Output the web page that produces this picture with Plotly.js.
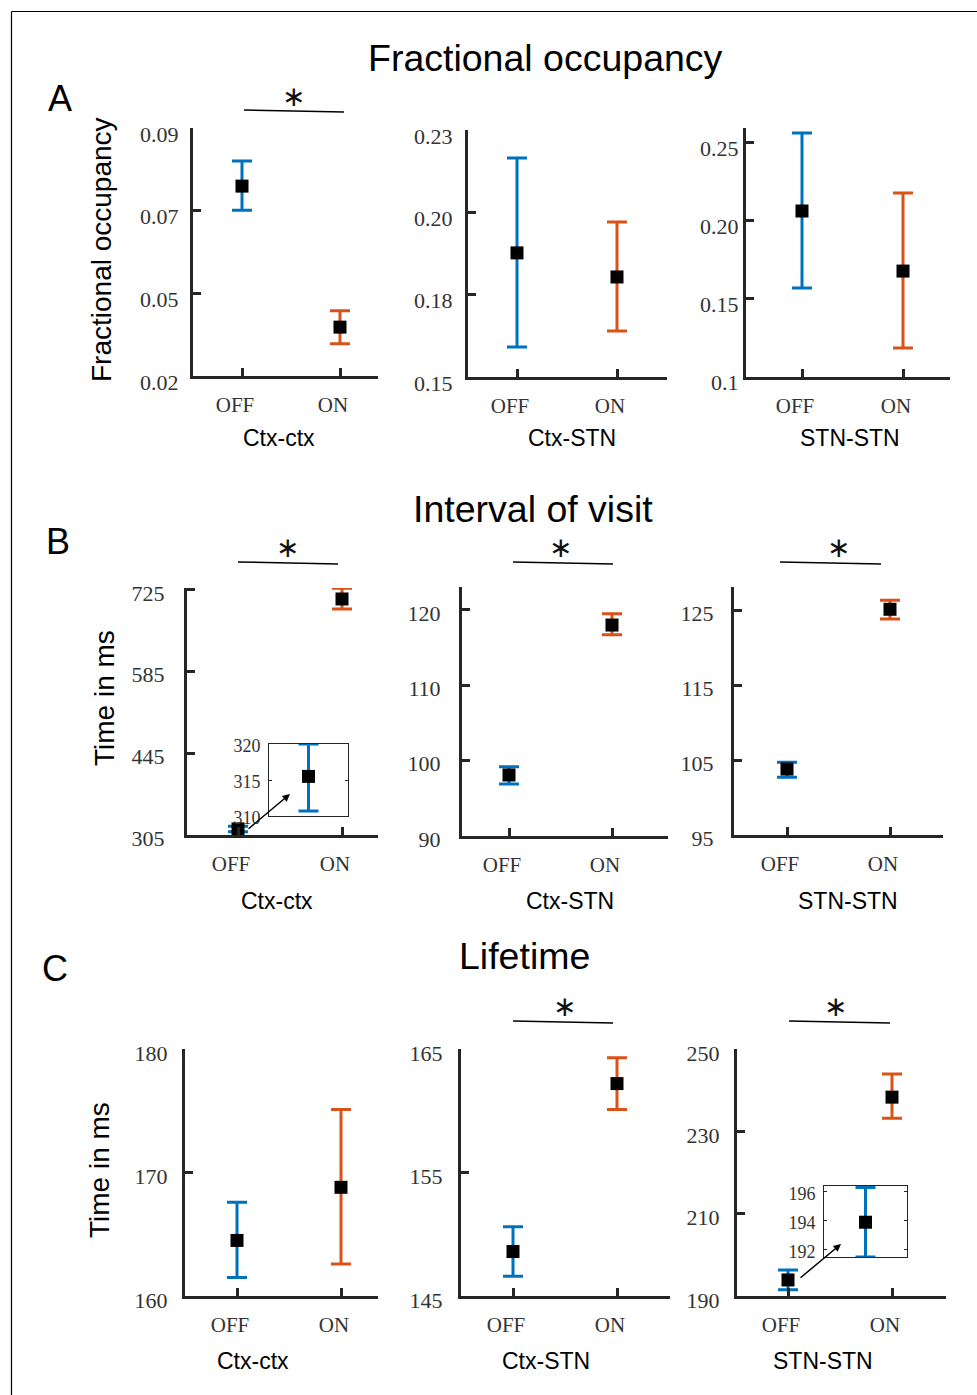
<!DOCTYPE html>
<html><head><meta charset="utf-8">
<script src="https://cdn.plot.ly/plotly-3.0.1.min.js"></script>
<style>html,body{margin:0;padding:0;background:#fff}</style>
</head><body><div id="chart" style="width:977px;height:1395px"></div>
<script>
const W = 977, H = 1395;
const conditions = ['OFF', 'ON'];
const pairs = ['Ctx-ctx', 'Ctx-STN', 'STN-STN'];
const sectionTitles = ['Fractional occupancy', 'Interval of visit', 'Lifetime'];
const sectionLetters = ['A', 'B', 'C'];
const yTitles = ['Fractional occupancy', 'Time in ms', 'Time in ms'];
const colors = ['#0072BD', '#D95319'];

// A: fractional occupancy
const foCtxCtxMean = [0.0743, 0.0362], foCtxCtxUpper = [0.0811, 0.0406], foCtxCtxLower = [0.0678, 0.0317];
const foCtxStnMean = [0.1902, 0.1824], foCtxStnUpper = [0.2209, 0.2002], foCtxStnLower = [0.1597, 0.1649];
const foStnStnMean = [0.2064, 0.1679], foStnStnUpper = [0.2564, 0.2179], foStnStnLower = [0.1571, 0.1186];
// B: interval of visit (ms)
const ivCtxCtxMean = [315.5, 709.6], ivCtxCtxUpper = [320.0, 728.0], ivCtxCtxLower = [310.7, 692.4];
const ivCtxStnMean = [98.1, 118.0], ivCtxStnUpper = [99.2, 119.5], ivCtxStnLower = [96.9, 116.7];
const ivStnStnMean = [103.8, 125.1], ivStnStnUpper = [104.7, 126.3], ivStnStnLower = [102.7, 123.8];
// C: lifetime (ms)
const ltCtxCtxMean = [164.5, 168.8], ltCtxCtxUpper = [167.6, 175.1], ltCtxCtxLower = [161.5, 162.6];
const ltCtxStnMean = [148.6, 162.2], ltCtxStnUpper = [150.6, 164.3], ltCtxStnLower = [146.6, 160.1];
const ltStnStnMean = [193.9, 238.3], ltStnStnUpper = [196.3, 243.9], ltStnStnLower = [191.5, 233.2];

// y tick values / labels
const foCtxCtxTicks = [0.023, 0.04533, 0.06767, 0.09], foCtxCtxTickText = ['0.02', '0.05', '0.07', '0.09'];
const foCtxStnTicks = [0.15, 0.17667, 0.20333, 0.23], foCtxStnTickText = ['0.15', '0.18', '0.20', '0.23'];
const foStnStnTicks = [0.1, 0.15, 0.2, 0.25], foStnStnTickText = ['0.1', '0.15', '0.20', '0.25'];
const ivCtxCtxTicks = [305, 445, 585, 725];
const ivCtxStnTicks = [90, 100, 110, 120];
const ivStnStnTicks = [95, 105, 115, 125];
const ltCtxCtxTicks = [160, 170, 180];
const ltCtxStnTicks = [145, 155, 165];
const ltStnStnTicks = [190, 210, 230, 250];
const insetIvTicks = [310, 315, 320];
const insetLtTicks = [192, 194, 196];

// panel geometry (pixels): left, right, top, bottom, OFF x, ON x ; y range ; label standoff / shift
const panels = [
  {m: foCtxCtxMean, u: foCtxCtxUpper, l: foCtxCtxLower, tv: foCtxCtxTicks, tt: foCtxCtxTickText, g: [193, 378, 128, 376, 242, 340], r: [0.023, 0.09], so: 7, sh: 6},
  {m: foCtxStnMean, u: foCtxStnUpper, l: foCtxStnLower, tv: foCtxStnTicks, tt: foCtxStnTickText, g: [468, 667, 130, 377, 517, 617], r: [0.15, 0.23], so: 8, sh: 6},
  {m: foStnStnMean, u: foStnStnUpper, l: foStnStnLower, tv: foStnStnTicks, tt: foStnStnTickText, g: [746, 950, 128, 377, 802, 903], r: [0.1, 0.2596], so: 0, sh: 5},
  {m: ivCtxCtxMean, u: ivCtxCtxUpper, l: ivCtxCtxLower, tv: ivCtxCtxTicks, tt: ivCtxCtxTicks.map(String), g: [187, 378, 588, 835, 238, 342], r: [305, 728.4], so: 15, sh: 3},
  {m: ivCtxStnMean, u: ivCtxStnUpper, l: ivCtxStnLower, tv: ivCtxStnTicks, tt: ivCtxStnTicks.map(String), g: [462, 668, 587, 836, 509, 612], r: [90, 123.05], so: 14, sh: 3},
  {m: ivStnStnMean, u: ivStnStnUpper, l: ivStnStnLower, tv: ivStnStnTicks, tt: ivStnStnTicks.map(String), g: [734, 943, 587, 835, 787, 890], r: [95, 128.07], so: 13, sh: 3},
  {m: ltCtxCtxMean, u: ltCtxCtxUpper, l: ltCtxCtxLower, tv: ltCtxCtxTicks, tt: ltCtxCtxTicks.map(String), g: [185, 378, 1049, 1296, 237, 341], r: [160, 180], so: 10, sh: 4},
  {m: ltCtxStnMean, u: ltCtxStnUpper, l: ltCtxStnLower, tv: ltCtxStnTicks, tt: ltCtxStnTicks.map(String), g: [461, 670, 1049, 1296, 513, 617], r: [145, 165], so: 11, sh: 4},
  {m: ltStnStnMean, u: ltStnStnUpper, l: ltStnStnLower, tv: ltStnStnTicks, tt: ltStnStnTicks.map(String), g: [737, 946, 1049, 1296, 788, 892], r: [190, 250], so: 10, sh: 4}
];
const insets = [
  {m: ivCtxCtxMean, u: ivCtxCtxUpper, l: ivCtxCtxLower, tv: insetIvTicks, g: [269, 348, 744, 816], r: [310, 320], arrow: [247, 830, 290, 794]},
  {m: ltStnStnMean, u: ltStnStnUpper, l: ltStnStnLower, tv: insetLtTicks, g: [824, 907, 1186, 1257], r: [191.5, 196.4], arrow: [799, 1279, 841, 1244]}
];

const axisColor = '#262626';
const yTickFont = {family: 'Liberation Serif', size: 22, color: '#333333'};
const xTickFont = {family: 'Liberation Serif', size: 21, color: '#333333'};
const xs = conditions.map((c, i) => i + 1);
const px2x = p => p / W, py2y = p => 1 - p / H;

const traces = [];
const layout = {
  width: W, height: H, margin: {l: 0, r: 0, t: 0, b: 0},
  paper_bgcolor: '#fff', plot_bgcolor: 'rgba(0,0,0,0)', showlegend: false,
  annotations: [], shapes: []
};

function addTraces(p, n, onlyOff) {
  const gs = onlyOff ? [0] : [0, 1];
  gs.forEach(gi => {
    traces.push({
      x: [xs[gi]], y: [p.m[gi]], mode: 'markers', type: 'scatter',
      marker: {symbol: 'square', size: 13, color: '#000'},
      error_y: {type: 'data', symmetric: false, array: [p.u[gi] - p.m[gi]], arrayminus: [p.m[gi] - p.l[gi]],
                color: colors[gi], thickness: 3, width: 10},
      xaxis: 'x' + (n === 1 ? '' : n), yaxis: 'y' + (n === 1 ? '' : n), hoverinfo: 'skip'
    });
  });
}

panels.forEach((p, i) => {
  const n = i + 1;
  const [L, R, T, B, offPx, onPx] = p.g;
  const unit = onPx - offPx;
  const a = 1 - (offPx - L) / unit, b = a + (R - L) / unit;
  const xk = 'xaxis' + (n === 1 ? '' : n), yk = 'yaxis' + (n === 1 ? '' : n);
  layout[xk] = {
    domain: [px2x(L), px2x(R)], range: [a, b], anchor: 'y' + (n === 1 ? '' : n),
    tickvals: xs, ticktext: conditions, ticks: 'inside', ticklen: 8, tickwidth: 3, tickcolor: axisColor,
    showline: true, linewidth: 3, linecolor: axisColor, showgrid: false, zeroline: false,
    tickfont: xTickFont, ticklabelstandoff: 8, ticklabelshift: -7, fixedrange: true
  };
  layout[yk] = {
    domain: [py2y(B), py2y(T)], range: p.r, anchor: 'x' + (n === 1 ? '' : n),
    tickvals: p.tv, ticktext: p.tt, ticks: 'inside', ticklen: 8, tickwidth: 3, tickcolor: axisColor,
    showline: true, linewidth: 3, linecolor: axisColor, showgrid: false, zeroline: false,
    tickfont: yTickFont, ticklabelstandoff: p.so, ticklabelshift: p.sh, fixedrange: true
  };
  addTraces(p, n, false);
});

insets.forEach((p, j) => {
  const n = panels.length + j + 1;
  const [L, R, T, B] = p.g;
  layout['xaxis' + n] = {
    domain: [px2x(L), px2x(R)], range: [0.5, 1.5], anchor: 'y' + n,
    showticklabels: false, ticks: '', showline: true, mirror: true, linewidth: 1, linecolor: axisColor,
    showgrid: false, zeroline: false, fixedrange: true
  };
  layout['yaxis' + n] = {
    domain: [py2y(B), py2y(T)], range: p.r, anchor: 'x' + n,
    tickvals: p.tv, ticks: 'inside', ticklen: 3, tickwidth: 1, tickcolor: axisColor,
    showline: true, mirror: 'ticks', linewidth: 1, linecolor: axisColor, showgrid: false, zeroline: false,
    tickfont: {family: 'Liberation Serif', size: 18, color: '#333333'}, ticklabelstandoff: 4, ticklabelshift: 2, fixedrange: true
  };
  addTraces(p, n, true);
  const [tx, ty, hx, hy] = p.arrow;
  layout.annotations.push({
    xref: 'paper', yref: 'paper', x: px2x(hx), y: py2y(hy), ax: tx - hx, ay: ty - hy,
    text: '', showarrow: true, arrowhead: 2, arrowsize: 1, arrowwidth: 1.5, arrowcolor: '#000', standoff: 0
  });
});

function txt(t, x, y, size, opts) {
  layout.annotations.push(Object.assign({
    xref: 'paper', yref: 'paper', x: px2x(x), y: py2y(y), text: t, showarrow: false, borderpad: 0,
    xanchor: 'center', yanchor: 'middle', font: {family: 'Liberation Sans, Arial', size: size, color: '#000'}
  }, opts || {}));
}

// section titles and letters
const sectionTitlePos = [[545, 58], [533, 509], [524, 956]];
const letterPos = [[60, 98], [58, 541], [55, 968]];
const yTitlePos = [[101, 250], [104, 698], [99, 1170]];
const xTitleY = [438, 901, 1361];
const xTitleX = [[279, 572, 850], [277, 570, 848], [253, 546, 823]];
sectionTitles.forEach((t, i) => {
  txt(t, sectionTitlePos[i][0], sectionTitlePos[i][1], 37.5);
  txt(sectionLetters[i], letterPos[i][0], letterPos[i][1], 36);
  txt(yTitles[i], yTitlePos[i][0], yTitlePos[i][1], 28, {textangle: -90});
  pairs.forEach((pr, k) => txt(pr, xTitleX[i][k], xTitleY[i], 23));
});

// significance markers: [x0, y0, x1, y1, starX, starY]
const sig = [
  [244, 110, 344, 112, 293, 96],
  [238, 562, 338, 564, 287, 547],
  [513, 562, 613, 564, 560, 547],
  [780, 562, 881, 564, 838, 547],
  [513, 1021, 613, 1023, 564, 1006],
  [789, 1021, 890, 1023, 835, 1006]
];
sig.forEach(s => {
  layout.shapes.push({type: 'line', xref: 'paper', yref: 'paper', x0: px2x(s[0]), y0: py2y(s[1]), x1: px2x(s[2]), y1: py2y(s[3]),
    line: {color: '#000', width: 1.5}});
  txt('\u2217', s[4], s[5], 28, {font: {family: 'DejaVu Sans', size: 28, color: '#111'}});
});

// figure border
layout.shapes.push({type: 'line', xref: 'paper', yref: 'paper', x0: px2x(11.5), y0: py2y(11.5), x1: 1, y1: py2y(11.5), line: {color: '#000', width: 1.2}});
layout.shapes.push({type: 'line', xref: 'paper', yref: 'paper', x0: px2x(11.5), y0: py2y(11.5), x1: px2x(11.5), y1: 0, line: {color: '#000', width: 1.2}});

Plotly.newPlot('chart', traces, layout, {staticPlot: true, displayModeBar: false});
</script></body></html>
